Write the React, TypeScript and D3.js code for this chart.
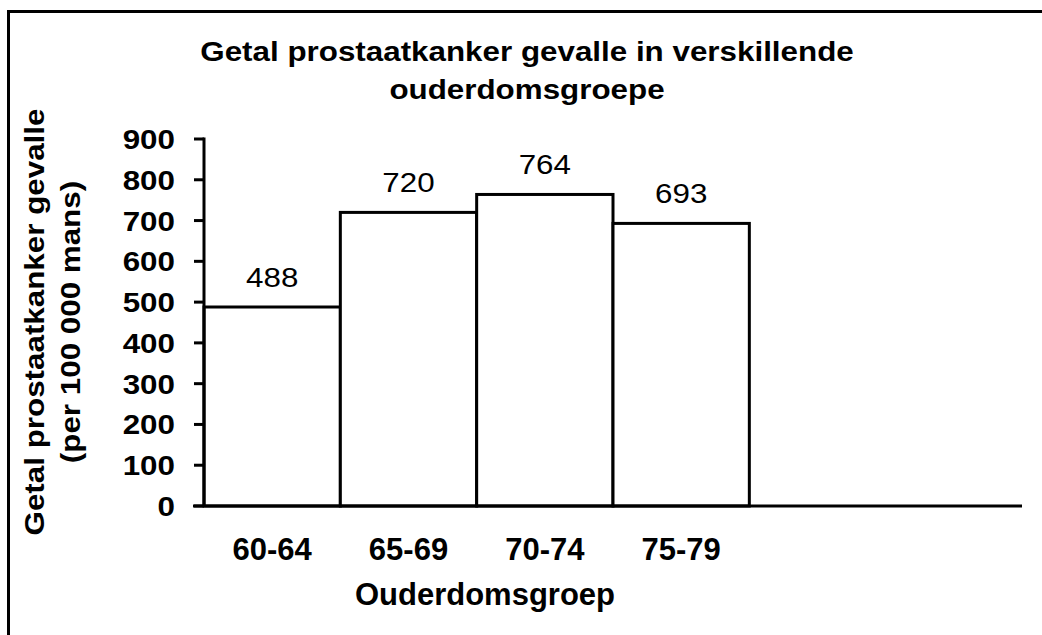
import React from 'react';
import * as d3 from 'd3';

const categories = ['60-64', '65-69', '70-74', '75-79'];
const values = [488, 720, 764, 693];
const emptySlots = 2;
const yTicks = [0, 100, 200, 300, 400, 500, 600, 700, 800, 900];
const titleLines = ['Getal prostaatkanker gevalle in verskillende', 'ouderdomsgroepe'];
const yTitleLines = ['Getal prostaatkanker gevalle', '(per 100 000 mans)'];
const xTitle = 'Ouderdomsgroep';

const W = 1042;
const H = 635;
const plot = { left: 204, right: 1022, top: 139, bottom: 506 };
const FONT = "'Liberation Sans', Arial, Helvetica, sans-serif";
const FS = 28;
const SX = 1.12;

function T({ x, y, children, anchor = 'middle', weight = 'bold', rotate = 0, size = FS, sx = SX }: any) {
  return (
    <text
      transform={`translate(${x},${y}) rotate(${rotate}) scale(${sx},1)`}
      textAnchor={anchor}
      fontWeight={weight}
      fontSize={size}
      fontFamily={FONT}
      fill="#000"
    >
      {children}
    </text>
  );
}

export default function App() {
  const slots = d3.range(categories.length + emptySlots);
  const x = d3.scaleBand<number>().domain(slots).range([plot.left, plot.right]).padding(0);
  const y = d3.scaleLinear().domain([0, 900]).range([plot.bottom, plot.top]);
  const bw = x.bandwidth();

  return (
    <svg width={W} height={H} style={{ position: 'absolute', left: 0, top: 0, background: '#fff' }}>
      <rect x={0} y={0} width={W} height={H} fill="#fff" />
      <rect x={8.5} y={11.5} width={W + 50} height={H + 50} fill="none" stroke="#000" strokeWidth={3} />

      {/* title */}
      {titleLines.map((t, i) => (
        <T key={t} x={527} y={61 + i * 38}>{t}</T>
      ))}

      {/* bars */}
      {values.map((v, i) => (
        <rect
          key={categories[i]}
          x={x(i)!}
          y={y(v)}
          width={bw}
          height={y(0) - y(v)}
          fill="#fff"
          stroke="#000"
          strokeWidth={3}
        />
      ))}

      {/* value labels */}
      {values.map((v, i) => (
        <T key={'v' + i} x={x(i)! + bw / 2} y={y(v) - 20} weight="normal">{v}</T>
      ))}

      {/* y axis */}
      <line x1={plot.left} x2={plot.left} y1={y(900) - 1.5} y2={y(0)} stroke="#000" strokeWidth={3} />
      {yTicks.map((t) => (
        <g key={t}>
          <line x1={plot.left - 10} x2={plot.left} y1={y(t)} y2={y(t)} stroke="#000" strokeWidth={3} />
          <T x={175} y={y(t) + 10} anchor="end">{t}</T>
        </g>
      ))}

      {/* x axis */}
      <line x1={plot.left - 11} x2={plot.right} y1={y(0)} y2={y(0)} stroke="#000" strokeWidth={3} />
      {categories.map((c, i) => (
        <T key={c} x={x(i)! + bw / 2} y={560} size={31} sx={1.0}>{c}</T>
      ))}
      <T x={485} y={605} size={31} sx={1.0}>{xTitle}</T>

      {/* y title */}
      {yTitleLines.map((t, i) => (
        <T key={t} x={44 + i * 36} y={322} rotate={-90}>{t}</T>
      ))}
    </svg>
  );
}
